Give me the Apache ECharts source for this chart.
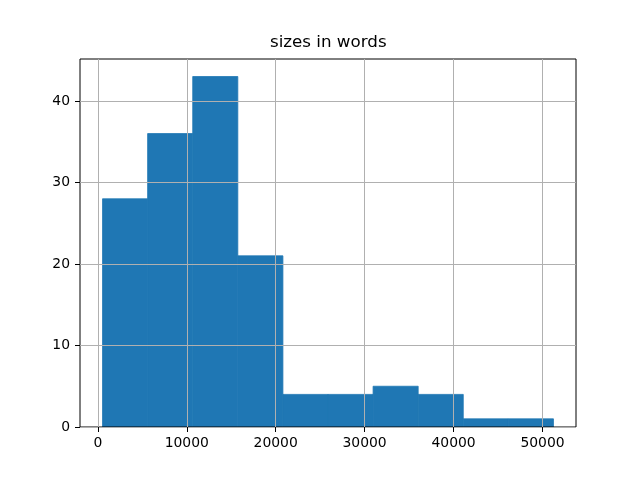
<!DOCTYPE html>
<html>
<head>
<meta charset="utf-8">
<script src="https://cdn.jsdelivr.net/npm/echarts@6/dist/echarts.min.js"></script>
<style>html,body{margin:0;padding:0;background:#fff}#c{width:640px;height:480px}</style>
</head>
<body>
<div id="c"></div>
<script>
const binEdges = [530, 5600, 10671, 15741, 20812, 25882, 30953, 36023, 41094, 46164, 51235];
const counts = [28, 36, 43, 21, 4, 4, 5, 4, 1, 1];
const xTicks = [0, 10000, 20000, 30000, 40000, 50000];
const yTicks = [0, 10, 20, 30, 40];
const titleText = 'sizes in words';

const span = binEdges[binEdges.length - 1] - binEdges[0];
const xMin = binEdges[0] - span * 0.05;
const xMax = binEdges[binEdges.length - 1] + span * 0.05;
const yMax = Math.max(...counts) * 1.05;

const data = counts.map((c, i) => [binEdges[i], binEdges[i + 1], c]);

const font = 'DejaVu Sans';
const chart = echarts.init(document.getElementById('c'), null, {renderer: 'canvas'});
chart.setOption({
  animation: false,
  title: {text: titleText, left: 270, top: 34, padding: 0,
    textStyle: {fontFamily: font, fontSize: 16.7, fontWeight: 'normal', color: '#000'}},
  grid: {left: 80, right: 64, top: 59, bottom: 53, show: true, borderColor: '#000', borderWidth: 1, z: 5},
  xAxis: {
    type: 'value', min: xMin, max: xMax, z: 5,
    axisLine: {show: false, onZero: false},
    axisTick: {show: true, length: 5, lineStyle: {color: '#000'}, customValues: xTicks},
    axisLabel: {fontFamily: font, fontSize: 13.9, color: '#000', margin: 9, customValues: xTicks,
      formatter: v => String(v)},
    splitLine: {show: true, lineStyle: {color: '#b0b0b0', width: 1}}
  },
  yAxis: {
    type: 'value', min: 0, max: yMax, z: 5,
    axisLine: {show: false, onZero: false},
    axisTick: {show: true, length: 5, lineStyle: {color: '#000'}, customValues: yTicks},
    axisLabel: {fontFamily: font, fontSize: 13.9, color: '#000', margin: 10, customValues: yTicks},
    splitLine: {show: true, lineStyle: {color: '#b0b0b0', width: 1}}
  },
  series: [{
    type: 'custom', z: 1,
    data: data,
    encode: {x: [0, 1], y: 2},
    renderItem: function (params, api) {
      const p0 = api.coord([api.value(0), api.value(2)]);
      const p1 = api.coord([api.value(1), 0]);
      return {type: 'rect', shape: {x: p0[0], y: p0[1], width: p1[0] - p0[0], height: p1[1] - p0[1]},
        style: {fill: '#1f77b4', stroke: '#1f77b4', lineWidth: 0.8}};
    }
  }]
});
</script>
</body>
</html>
